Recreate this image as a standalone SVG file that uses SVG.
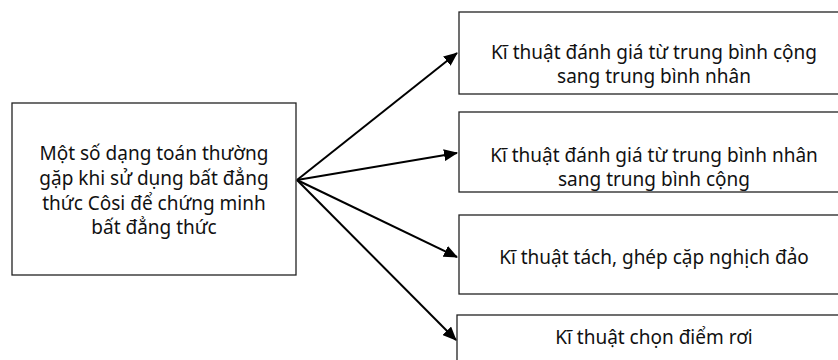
<svg xmlns="http://www.w3.org/2000/svg" width="838" height="360" viewBox="0 0 838 360">
<defs>
<marker id="ah" markerWidth="14" markerHeight="12" refX="13" refY="6" orient="auto" markerUnits="userSpaceOnUse" viewBox="0 0 14 12">
<path d="M0,0 L14,6 L0,12 z" fill="#000"/>
</marker>
<style>
rect{fill:#fff;stroke:#222;stroke-width:1.3}
text{font-family:"Noto Sans","Open Sans",sans-serif;font-size:19px;fill:#111;text-anchor:middle}
.c line{stroke:#000;stroke-width:2;marker-end:url(#ah)}
</style>
</defs>
<rect x="0" y="0" width="838" height="360" style="fill:#fff;stroke:none"/>
<g id="root">
<rect x="12" y="103" width="284" height="172"/>
<text x="154" y="160">Một số dạng toán thường</text>
<text x="154" y="185">gặp khi sử dụng bất đẳng</text>
<text x="154" y="210">thức Côsi để chứng minh</text>
<text x="154" y="234">bất đẳng thức</text>
</g>
<g id="n1">
<rect x="459" y="12" width="400" height="82"/>
<text x="654" y="59">Kĩ thuật đánh giá từ trung bình cộng</text>
<text x="654" y="83">sang trung bình nhân</text>
</g>
<g id="n2">
<rect x="459" y="112" width="400" height="80"/>
<text x="654" y="162">Kĩ thuật đánh giá từ trung bình nhân</text>
<text x="654" y="186">sang trung bình cộng</text>
</g>
<g id="n3">
<rect x="459" y="215" width="400" height="79"/>
<text x="654" y="264">Kĩ thuật tách, ghép cặp nghịch đảo</text>
</g>
<g id="n4">
<rect x="457" y="315" width="400" height="60"/>
<text x="654" y="344">Kĩ thuật chọn điểm rơi</text>
</g>
<g class="c">
<line x1="297" y1="180" x2="457" y2="53"/>
<line x1="297" y1="180" x2="457" y2="153"/>
<line x1="297" y1="180" x2="457" y2="257"/>
<line x1="297" y1="180" x2="456" y2="340"/>
</g>
</svg>
